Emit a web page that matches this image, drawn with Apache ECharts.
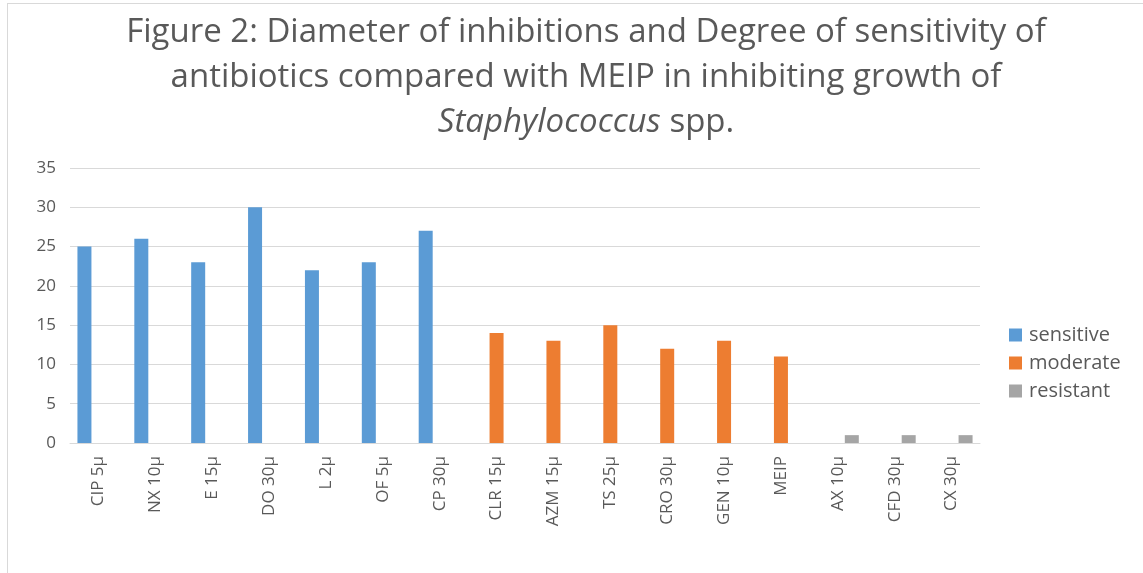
<!DOCTYPE html>
<html lang="en">
<head>
    <meta charset="UTF-8">
    <title>Figure 2</title>
    <script src="https://cdn.jsdelivr.net/npm/echarts@6/dist/echarts.min.js"></script>
    <style>
        html, body { margin: 0; padding: 0; background: #fff; }
        #frame { position: absolute; left: 7px; top: 3px; width: 1150px; height: 580px;
                 border-left: 1px solid #d9d9d9; border-top: 1px solid #d9d9d9; }
        #chart { position: absolute; left: 0; top: 0; width: 1143px; height: 573px; }
    </style>
</head>
<body>
<div id="frame"></div>
<div id="chart"></div>
<script>
    // categories and values
    const drugs = ['CIP 5\u00b5', 'NX 10\u00b5', 'E 15\u00b5', 'DO 30\u00b5', 'L 2\u00b5', 'OF 5\u00b5', 'CP 30\u00b5',
        'CLR 15\u00b5', 'AZM 15\u00b5', 'TS 25\u00b5', 'CRO 30\u00b5', 'GEN 10\u00b5', 'MEIP',
        'AX 10\u00b5', 'CFD 30\u00b5', 'CX 30\u00b5'];
    const sensitive = [25, 26, 23, 30, 22, 23, 27, '-', '-', '-', '-', '-', '-', '-', '-', '-'];
    const moderate = ['-', '-', '-', '-', '-', '-', '-', 14, 13, 15, 12, 13, 11, '-', '-', '-'];
    const resistant = ['-', '-', '-', '-', '-', '-', '-', '-', '-', '-', '-', '-', '-', 1, 1, 1];
    const yTicks = [0, 5, 10, 15, 20, 25, 30, 35];

    const chart = echarts.init(document.getElementById('chart'));
    const grey = '#595959';
    const fontFam = '"Open Sans", "Liberation Sans", sans-serif';

    function makeSeries(name, data, color) {
        return {
            name: name,
            type: 'bar',
            data: data,
            barWidth: 14,
            barGap: '0%',
            itemStyle: { color: color },
            emphasis: { disabled: true }
        };
    }

    chart.setOption({
        animation: false,
        textStyle: { fontFamily: fontFam },
        title: {
            text: 'Figure 2: Diameter of inhibitions and Degree of sensitivity of\nantibiotics compared with MEIP in inhibiting growth of\n{i|Staphylococcus} spp.',
            left: 581,
            top: 5,
            textAlign: 'center',
            textStyle: {
                fontFamily: fontFam,
                fontWeight: 'normal',
                fontSize: 33,
                lineHeight: 45,
                color: grey,
                rich: {
                    i: { fontStyle: 'italic', fontSize: 33, color: grey, fontFamily: fontFam, lineHeight: 45 }
                }
            }
        },
        legend: {
            orient: 'vertical',
            left: 1004,
            top: 320,
            itemWidth: 13,
            itemHeight: 13,
            itemGap: 8,
            icon: 'rect',
            textStyle: { color: grey, fontSize: 20, fontFamily: fontFam, padding: [0, 0, 0, 2] }
        },
        grid: { left: 70, right: 163, top: 168, bottom: 130 },
        xAxis: {
            type: 'category',
            data: drugs,
            axisLine: { lineStyle: { color: '#d9d9d9' } },
            axisTick: { show: false },
            axisLabel: { rotate: 90, color: grey, fontSize: 17, margin: 13, interval: 0 }
        },
        yAxis: {
            type: 'value',
            min: yTicks[0],
            max: yTicks[yTicks.length - 1],
            interval: 5,
            axisLine: { show: false },
            axisTick: { show: false },
            axisLabel: { color: grey, fontSize: 17, margin: 14 },
            splitLine: { lineStyle: { color: '#d9d9d9' } }
        },
        series: [
            makeSeries('sensitive', sensitive, '#5b9bd5'),
            makeSeries('moderate', moderate, '#ed7d31'),
            makeSeries('resistant', resistant, '#a5a5a5')
        ]
    });
</script>
</body>
</html>
